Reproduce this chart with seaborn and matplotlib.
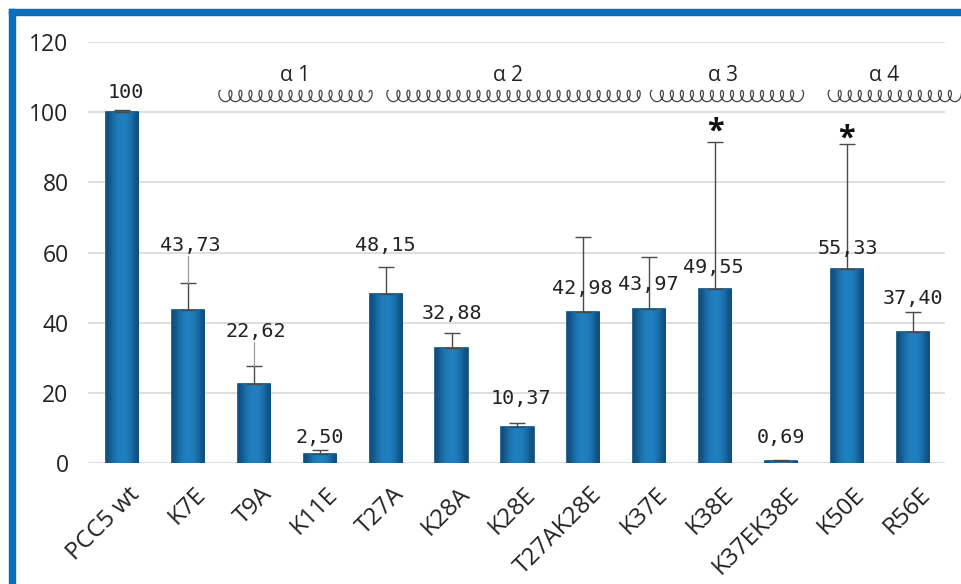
import numpy as np
import matplotlib
matplotlib.use("Agg")
import matplotlib.pyplot as plt
import matplotlib.transforms as mtransforms
import seaborn as sns
from matplotlib.patches import Rectangle

# ---- data ----
categories = ["PCC5 wt", "K7E", "T9A", "K11E", "T27A", "K28A", "K28E",
              "T27AK28E", "K37E", "K38E", "K37EK38E", "K50E", "R56E"]
values = [100, 43.73, 22.62, 2.50, 48.15, 32.88, 10.37,
          42.98, 43.97, 49.55, 0.69, 55.33, 37.40]
errors = [0.6, 7.6, 5.1, 1.2, 7.8, 4.1, 0.9, 21.3, 14.8, 42.0, 0.3, 35.6, 5.7]
value_labels = ["100", "43,73", "22,62", "2,50", "48,15", "32,88", "10,37",
                "42,98", "43,97", "49,55", "0,69", "55,33", "37,40"]
label_y = [105.7, 62.1, 37.6, 7.4, 62.1, 42.7, 18.5,
           49.6, 51.0, 55.6, 7.4, 61.0, 47.0]
label_x = [0.05, 0.03, 0.02, 0.0, 0.0, 0.0, 0.05,
           -0.02, -0.02, -0.03, 0.0, 0.02, 0.0]
leader_idx = [1, 2]          # labels with leader lines
star_idx = [9, 11]
star_y = [94.5, 92.5]
helix_names = ["α 1", "α 2", "α 3", "α 4"]
helix_start = [1.49, 4.04, 8.04, 10.74]
helix_end = [3.79, 7.89, 10.32, 12.69]
helix_text_x = [2.63, 5.86, 9.12, 11.56]
helix_text_y = 110.5
helix_y = 104.6
yticks = [0, 20, 40, 60, 80, 100, 120]

bar_color = "#1B72AE"
edge_color = "#0E4E7C"

sns.set_theme(style="white")
plt.rcParams["font.family"] = ["Open Sans", "DejaVu Sans"]

W, H = 961, 584
fig = plt.figure(figsize=(W / 100, H / 100), dpi=100)
fig.patch.set_facecolor("white")
ax = fig.add_axes([88 / W, 1 - 463 / H, (945 - 88) / W, (463 - 42) / H])

sns.barplot(x=categories, y=values, color=bar_color, width=0.49,
            edgecolor=edge_color, linewidth=1.2, saturation=1, ax=ax, zorder=3)

# gradient highlight on each bar (cylinder look)
cmap = matplotlib.colors.LinearSegmentedColormap.from_list("g", ["#0F4F80", "#2180C0"])
for p in ax.patches:
    x0, w, h = p.get_x(), p.get_width(), p.get_height()
    grad = np.array([[0.0, 0.45, 0.6, 0.6, 0.45, 0.0]])
    im = ax.imshow(grad, extent=[x0, x0 + w, 0, h], aspect="auto", cmap=cmap,
                   vmin=0, vmax=0.6, zorder=3.5, interpolation="bicubic")
    im.set_clip_path(p)

xs = np.arange(len(categories))
ax.errorbar(xs, values, yerr=[np.zeros(len(values)), errors], fmt="none",
            ecolor="#4a4a4a", elinewidth=1, capsize=6, capthick=1, zorder=4)

for i in leader_idx:
    top = values[i] + errors[i]
    ax.plot([i, i], [top, label_y[i] - 3.2], color="#9a9a9a", lw=0.9, zorder=4)

for i, (lab, ly) in enumerate(zip(value_labels, label_y)):
    ax.text(i + label_x[i], ly, lab, ha="center", va="center",
            fontsize=14.5, family="DejaVu Sans Mono", color="#222222", zorder=5)

for i, sy in zip(star_idx, star_y):
    ax.text(i, sy, "*", ha="center", va="center", fontsize=22,
            fontweight="bold", color="#111111", zorder=5)

# helix coils
r = 0.152 / (2 * np.pi)
d = 2.3 * r
for s, e, name, tx in zip(helix_start, helix_end, helix_names, helix_text_x):
    tmax = (e - s) / r
    t = np.linspace(0, tmax, 2000)
    cx = s + r * t - d * np.sin(t)
    cy = helix_y + 1.6 * np.cos(t)
    ax.plot(cx, cy, color="#444444", lw=0.9, clip_on=False, zorder=5)
    ax.text(tx, helix_text_y, name, ha="center", va="center",
            fontsize=15, color="#222222")

ax.set_ylim(0, 120)
ax.set_xlim(-0.52, 12.49)
ax.set_yticks(yticks)
ax.yaxis.grid(True, color="#d9d9d9", lw=1.2, zorder=0)
ax.set_axisbelow(True)
for sp in ax.spines.values():
    sp.set_visible(False)
ax.tick_params(axis="y", labelsize=16.5, length=0, pad=14, labelcolor="#222222")
ax.tick_params(axis="x", labelsize=17.5, length=0, pad=14, labelcolor="#222222")
offset = mtransforms.ScaledTranslation(6 / 100, 0, fig.dpi_scale_trans)
for lbl in ax.get_xticklabels():
    lbl.set_rotation(45)
    lbl.set_ha("right")
    lbl.set_rotation_mode("anchor")
    lbl.set_transform(lbl.get_transform() + offset)
ax.set_xlabel("")
ax.set_ylabel("")

# blue frame (left and top)
fig.patches.append(Rectangle((9 / W, 0), 6 / W, 1 - 9 / H, transform=fig.transFigure,
                             color="#0A6EBD", zorder=10))
fig.patches.append(Rectangle((9 / W, 1 - 15 / H), 1 - 9 / W, 6 / H,
                             transform=fig.transFigure, color="#0A6EBD", zorder=10))

fig.savefig("out.png", dpi=100)
